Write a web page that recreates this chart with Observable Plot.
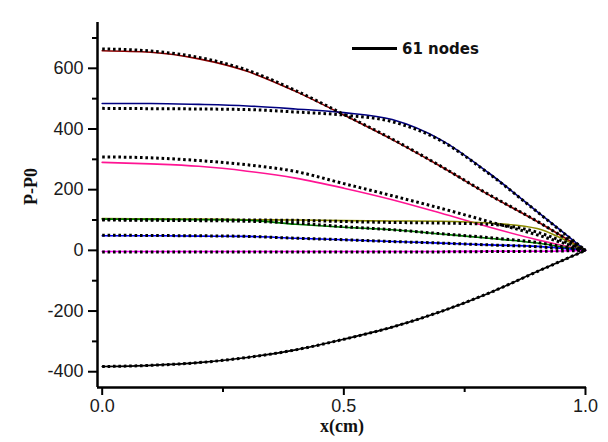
<!DOCTYPE html>
<html><head><meta charset="utf-8">
<script src="https://cdn.jsdelivr.net/npm/d3@7"></script>
<script src="https://cdn.jsdelivr.net/npm/@observablehq/plot@0.6"></script>
<style>
body{margin:0;background:#fff;}
#wrap{position:relative;width:608px;height:442px;}
#lgline{position:absolute;left:352px;top:47px;width:45px;height:2.5px;background:#000;}
#lgtext{position:absolute;left:402px;top:42px;font:bold 15px "DejaVu Sans",sans-serif;line-height:15px;color:#111;white-space:nowrap;}
</style></head><body>
<div id="wrap"><div id="lgline"></div><div id="lgtext">61 nodes</div></div>
<script>
// x positions (cm)
const xs = [0, 0.1, 0.2, 0.3, 0.4, 0.5, 0.6, 0.7, 0.8, 0.9, 0.95, 1.0];

// solid colored curves
const darkRedLine = [658, 653, 631, 590, 524, 446, 365, 277, 183, 95, 48, 0];
const navyLine    = [484, 484, 481, 476, 466, 454, 431, 365, 255, 128, 64, 0];
const pinkLine    = [290, 285, 277, 261, 238, 205, 167, 123, 77, 35, 17, 0];
const oliveLine   = [105, 104, 103, 101, 100, 98, 97, 96, 90, 72, 40, 0];
const greenLine   = [103, 102, 101, 99, 86, 76, 68, 54, 40, 24, 12, 0];
const blueLine    = [48, 48, 47, 46, 40, 35, 29, 24, 18, 13, 7, 0];
const magentaLine = [-4, -4, -4, -4, -4, -4, -4, -4, -3, -3, -2, 0];
const blackLine   = [-383, -379, -370, -353, -328, -293, -253, -202, -141, -70, -35, 0];

// 61 nodes (dotted black) curves
const darkRedNodes = [664, 657, 636, 594, 527, 448, 367, 278, 184, 96, 48, 0];
const navyNodes    = [468, 467, 466, 464, 456, 446, 424, 362, 253, 127, 63, 0];
const pinkNodes    = [308, 305, 296, 282, 260, 220, 180, 139, 95, 51, 26, 0];
const oliveNodes   = [102, 101, 101, 100, 99, 95, 92, 90, 86, 60, 32, 0];
const greenNodes   = [100, 99, 98, 96, 90, 78, 68, 55, 42, 26, 13, 0];
const blueNodes    = [50, 49, 48, 46, 40, 35, 29, 24, 18, 12, 6, 0];
const magentaNodes = [-5, -5, -5, -5, -5, -5, -5, -5, -4, -3, -2, 0];
const blackNodes   = [-383, -379, -370, -353, -328, -293, -253, -202, -141, -70, -35, 0];

const seriesColors = ["#8b0000", "#000080", "#ff1493", "#8b8b00", "#008000", "#0000ff", "#ff00ff", "#000000"];
const seriesLines = [darkRedLine, navyLine, pinkLine, oliveLine, greenLine, blueLine, magentaLine, blackLine];
const seriesNodes = [darkRedNodes, navyNodes, pinkNodes, oliveNodes, greenNodes, blueNodes, magentaNodes, blackNodes];

// ticks
const xTicks = [0, 0.5, 1.0];
const xMinor = [0.25, 0.75];
const yTicks = [-400, -200, 0, 200, 400, 600];
const yMinor = [-300, -100, 100, 300, 500, 700];
const xDomain = [-0.0097, 1.0021];
const yDomain = [-452, 751];

const solid = seriesLines.flatMap((vals, k) => xs.map((x, i) => ({x, y: vals[i], k, c: seriesColors[k]})));
const dots = seriesNodes.flatMap((vals, k) => xs.map((x, i) => ({x, y: vals[i], k})));

const tickFont = {fontFamily: "'Liberation Sans', Arial, sans-serif", fontSize: 18, fill: "#1a1a1a"};
const labelFont = {fontFamily: "'Liberation Serif', 'Times New Roman', serif", fontWeight: "bold", fontSize: 18, fill: "#111"};

const chart = Plot.plot({
  width: 608, height: 442,
  marginLeft: 97, marginRight: 22, marginTop: 22, marginBottom: 55,
  x: {domain: xDomain},
  y: {domain: yDomain},
  color: {type: "identity"},
  style: {background: "white", overflow: "visible", fontSize: "18px", fontFamily: "'Liberation Sans', Arial, sans-serif"},
  marks: [
    Plot.line(solid, {x: "x", y: "y", z: "k", stroke: "c", strokeWidth: 1.6, curve: "monotone-x"}),
    Plot.line(dots, {x: "x", y: "y", z: "k", stroke: "black", strokeWidth: 3, strokeDasharray: "2.6,2.8", strokeLinecap: "butt", curve: "monotone-x"}),
    Plot.ruleX([xDomain[0]], {stroke: "black", strokeWidth: 2.5}),
    Plot.ruleY([yDomain[0]], {stroke: "black", strokeWidth: 2.5}),
    Plot.axisY(yTicks, {tickSize: 9, tickPadding: 5, strokeWidth: 2, stroke: "black", label: null, tickFormat: d => String(d), ...tickFont}),
    Plot.axisY(yMinor, {tickSize: 5, strokeWidth: 2, stroke: "black", label: null, tickFormat: () => ""}),
    Plot.axisX(xTicks, {tickSize: 8, tickPadding: 4, strokeWidth: 2, stroke: "black", label: null, tickFormat: d3.format(".1f"), ...tickFont}),
    Plot.axisX(xMinor, {tickSize: 5, strokeWidth: 2, stroke: "black", label: null, tickFormat: () => ""}),
    Plot.text(["P-P0"], {frameAnchor: "left", dx: -66, rotate: -90, ...labelFont}),
    Plot.text(["x(cm)"], {frameAnchor: "bottom", dy: 44, ...labelFont})
  ]
});
document.getElementById("wrap").prepend(chart);
</script>
</body></html>
